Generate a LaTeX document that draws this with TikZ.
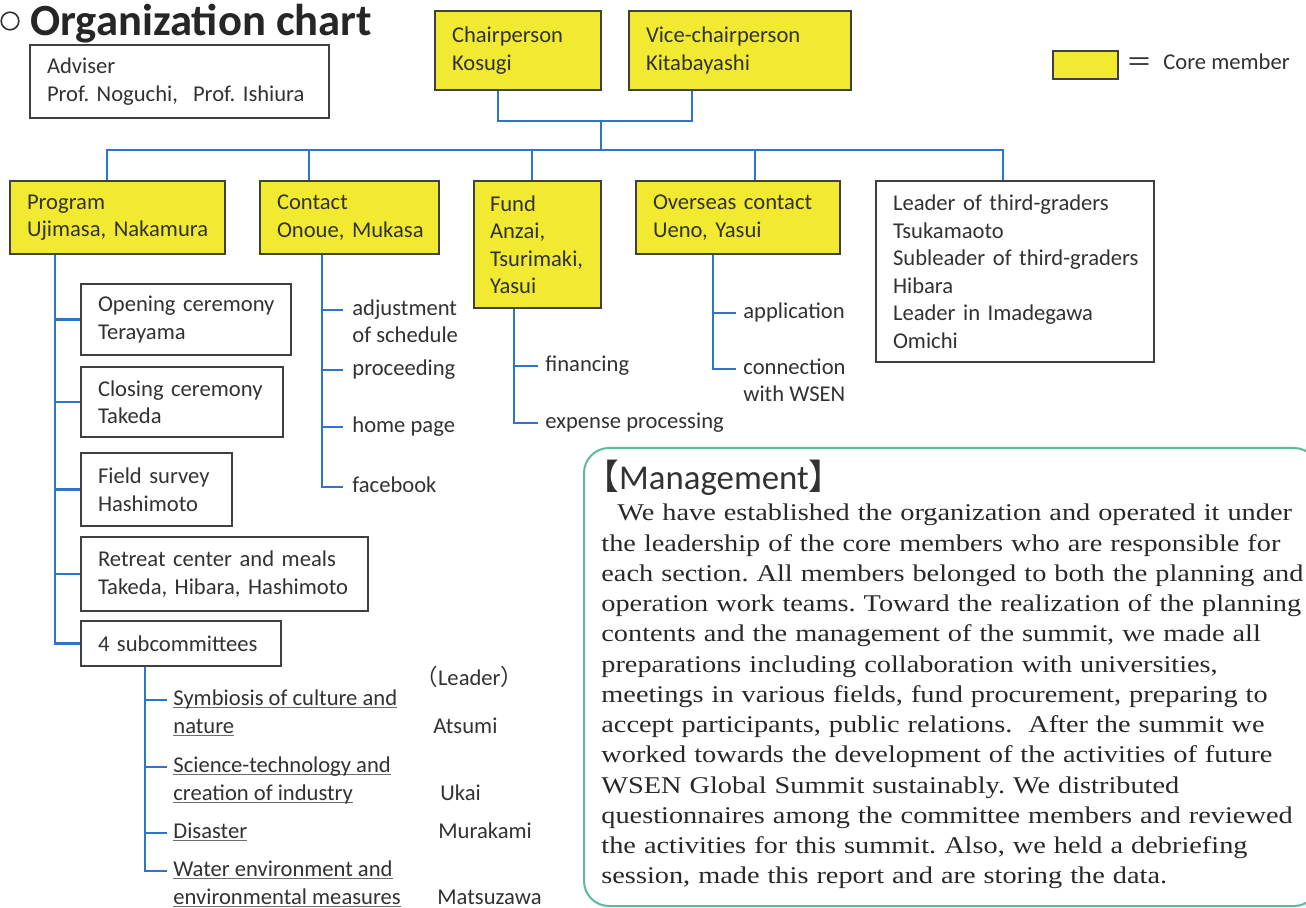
\documentclass[tikz,border=0pt]{standalone}
\usepackage{fontspec}
\setmainfont{Carlito}
\newfontfamily\cjk{Noto Sans CJK JP}
\newfontfamily\mgmtfont[FakeStretch=1.18]{Liberation Serif}
\definecolor{coreyellow}{RGB}{242,234,48}
\definecolor{boxgray}{RGB}{64,64,64}
\definecolor{connblue}{RGB}{46,117,200}
\definecolor{txtgray}{RGB}{50,50,50}
\definecolor{mgmtgreen}{RGB}{95,185,155}
\definecolor{bodygray}{RGB}{40,40,40}
\definecolor{ulgray}{RGB}{110,110,110}
\newcommand\ulline[1]{\setbox0\hbox{#1}\rlap{\color{ulgray}\rule[-1.4pt]{\wd0}{0.6pt}}\box0}
\frenchspacing
\begin{document}
\begin{tikzpicture}[x=0.5pt,y=-0.5pt,
  txt/.style={text=txtgray, font=\fontsize{11.3}{13.75}\selectfont\frenchspacing},
  box/.style={draw=boxgray, line width=1pt, inner xsep=8.5pt, inner ysep=0pt,
    align=left, anchor=north west, txt},
  core/.style={box, fill=coreyellow},
  conn/.style={draw=connblue, line width=1.3pt},
  lbl/.style={txt, inner sep=0pt, anchor=west, text height=8pt, text depth=2.5pt},
  mframe/.style={draw=mgmtgreen, line width=1pt, rounded corners=12.5pt, inner sep=0pt, anchor=north west}
]
\useasboundingbox (0,0) rectangle (1306,908);
\fill[white] (0,0) rectangle (1306,908);

% title
\draw[line width=0.8pt, txtgray] (10,21) circle[radius=4.4pt];
\node[anchor=base west, inner sep=0pt, text=black!85, font=\bfseries\fontsize{22.3}{26}\selectfont] (title) at (30,36) {Organization chart};

% top boxes
\node[box, minimum width=149.5pt, minimum height=36.5pt, text width=132.5pt] (adv) at (29,44)
  {\mbox{Adviser}\\\mbox{Prof. Noguchi,\ \ Prof. Ishiura}};
\node[core, minimum width=83pt, minimum height=39.5pt, text width=66pt] (chair) at (434,10)
  {\mbox{Chairperson}\\\mbox{Kosugi}};
\node[core, minimum width=111pt, minimum height=39.5pt, text width=94pt] (vice) at (628,10)
  {\mbox{Vice-chairperson}\\\mbox{Kitabayashi}};

% legend
\node[core, minimum width=32.5pt, minimum height=14pt, inner sep=0pt] (leg) at (1052,50) {};
\node[lbl, font=\cjk\fontsize{13}{13}\selectfont] (eq) at (1126,66) {＝};
\node[lbl] (coremem) at (1163,64) {Core member};

% second level boxes
\node[core, minimum width=107.5pt, minimum height=36.5pt, text width=90.5pt] (prog) at (9,180)
  {\mbox{Program}\\\mbox{Ujimasa, Nakamura}};
\node[core, minimum width=89.5pt, minimum height=36.5pt, text width=72.5pt] (cont) at (259,180)
  {\mbox{Contact}\\\mbox{Onoue, Mukasa}};
\node[core, minimum width=63.5pt, minimum height=63.5pt, text width=47.5pt, inner xsep=8pt] (fund) at (473,180)
  {\mbox{Fund}\\\mbox{Anzai,}\\\mbox{Tsurimaki,}\\\mbox{Yasui}};
\node[core, minimum width=102pt, minimum height=36.5pt, text width=85pt] (over) at (635,180)
  {\mbox{Overseas contact}\\\mbox{Ueno, Yasui}};
\node[box, minimum width=139pt, minimum height=90.5pt, text width=122pt] (lead) at (875,180)
  {\mbox{Leader of third-graders}\\\mbox{Tsukamaoto}\\\mbox{Subleader of third-graders}\\\mbox{Hibara}\\\mbox{Leader in Imadegawa}\\\mbox{Omichi}};

% program sub boxes
\node[box, minimum width=105pt, minimum height=35.5pt, text width=88pt] (open) at (80,283)
  {\mbox{Opening ceremony}\\\mbox{Terayama}};
\node[box, minimum width=101pt, minimum height=35pt, text width=84pt] (close) at (80,366)
  {\mbox{Closing ceremony}\\\mbox{Takeda}};
\node[box, minimum width=75.5pt, minimum height=36.5pt, text width=58.5pt] (field) at (80,452)
  {\mbox{Field survey}\\\mbox{Hashimoto}};
\node[box, minimum width=143.5pt, minimum height=37pt, text width=126.5pt] (retr) at (80,536)
  {\mbox{Retreat center and meals}\\\mbox{Takeda, Hibara, Hashimoto}};
\node[box, minimum width=100pt, minimum height=22.5pt, text width=83pt] (sub4) at (80,620)
  {\mbox{4 subcommittees}};

% connectors at top
\coordinate (cd1) at (498,121);
\coordinate (cd2) at (692,121);
\coordinate (cj) at (601,121);
\draw[conn] (cd1 |- chair.south) -- (cd1) -- (cd2) -- (cd2 |- vice.south);
\coordinate (b1) at (107,150);
\coordinate (b2) at (309,150);
\coordinate (b3) at (532,150);
\coordinate (b4) at (755,150);
\coordinate (b5) at (1003,150);
\draw[conn] (cj) -- (cj |- b1);
\draw[conn] (b1 |- prog.north) -- (b1) -- (b5) -- (b5 |- lead.north);
\draw[conn] (b2) -- (b2 |- cont.north);
\draw[conn] (b3) -- (b3 |- fund.north);
\draw[conn] (b4) -- (b4 |- over.north);

% program tree
\coordinate (ps) at (55,253);
\draw[conn] (ps |- prog.south) |- (sub4.west);
\draw[conn] (ps |- open.west) -- (open.west);
\draw[conn] (ps |- close.west) -- (close.west);
\draw[conn] (ps |- field.west) -- (field.west);
\draw[conn] (ps |- retr.west) -- (retr.west);

% contact tree
\node[lbl] (adj1) at (352,310) {adjustment};
\node[lbl] (adj2) at (352,337) {of schedule};
\node[lbl] (proc) at (352,370) {proceeding};
\node[lbl] (home) at (352,427) {home page};
\node[lbl] (fb) at (352,487) {facebook};
\coordinate (cs) at (322,253);
\draw[conn, shorten >=4.5pt] (cs |- cont.south) |- (fb.west);
\draw[conn, shorten >=4.5pt] (cs |- adj1.west) -- (adj1.west);
\draw[conn, shorten >=4.5pt] (cs |- proc.west) -- (proc.west);
\draw[conn, shorten >=4.5pt] (cs |- home.west) -- (home.west);

% fund tree
\node[lbl] (fin) at (545,366) {financing};
\node[lbl] (exp) at (545,423) {expense processing};
\coordinate (fs) at (514,307);
\draw[conn, shorten >=3.5pt] (fs |- fund.south) |- (exp.west);
\draw[conn, shorten >=3.5pt] (fs |- fin.west) -- (fin.west);

% overseas tree
\node[lbl] (app) at (743,313) {application};
\node[lbl] (con1) at (743,369) {connection};
\node[lbl] (con2) at (743,396) {with WSEN};
\coordinate (os) at (713,253);
\draw[conn, shorten >=3.5pt] (os |- over.south) |- (con1.west);
\draw[conn, shorten >=3.5pt] (os |- app.west) -- (app.west);

% subcommittees tree
\node[lbl] (sym1) at (173,700) {\ulline{Symbiosis of culture and}};
\node[lbl] (sym2) at (173,728) {\ulline{nature}};
\node[lbl] (sci1) at (173,767) {\ulline{Science-technology and}};
\node[lbl] (sci2) at (173,795) {\ulline{creation of industry}};
\node[lbl] (dis) at (173,833) {\ulline{Disaster}};
\node[lbl] (wat1) at (173,871) {\ulline{Water environment and}};
\node[lbl] (wat2) at (173,899) {\ulline{environmental measures}};
\coordinate (ss) at (145,665);
\draw[conn, shorten >=3pt] (ss |- sub4.south) |- (wat1.west);
\draw[conn, shorten >=3pt] (ss |- sym1.west) -- (sym1.west);
\draw[conn, shorten >=3pt] (ss |- sci1.west) -- (sci1.west);
\draw[conn, shorten >=3pt] (ss |- dis.west) -- (dis.west);

\node[lbl] (ldr) at (415,680) {{\cjk （}Leader{\cjk ）}};
\node[lbl] (atsumi) at (433,728) {Atsumi};
\node[lbl] (ukai) at (440,795) {Ukai};
\node[lbl] (mura) at (438,833) {Murakami};
\node[lbl] (matsu) at (437,899) {Matsuzawa};

% management
\node[mframe, minimum width=367.5pt, minimum height=229pt] (mgmt) at (583,447) {};
\node[anchor=west, inner sep=0pt, text=txtgray, font=\fontsize{17.4}{20}\selectfont] (mhead) at (584,478)
  {{\cjk 【}Management{\cjk 】}};
\node[anchor=base west, inner sep=0pt, text width=420pt, align=left, text=bodygray,
  font=\mgmtfont\fontsize{12}{15.125}\selectfont] (mbody) at (601,521)
  {\frenchspacing\hspace*{8pt}We have established the organization and operated it under\\
   the leadership of the core members who are responsible for\\
   each section. All members belonged to both the planning and\\
   operation work teams. Toward the realization of the planning\\
   contents and the management of the summit, we made all\\
   preparations including collaboration with universities,\\
   meetings in various fields, fund procurement, preparing to\\
   accept participants, public relations.\ \ After the summit we\\
   worked towards the development of the activities of future\\
   WSEN Global Summit sustainably. We distributed\\
   questionnaires among the committee members and reviewed\\
   the activities for this summit. Also, we held a debriefing\\
   session, made this report and are storing the data.};
\end{tikzpicture}
\end{document}
